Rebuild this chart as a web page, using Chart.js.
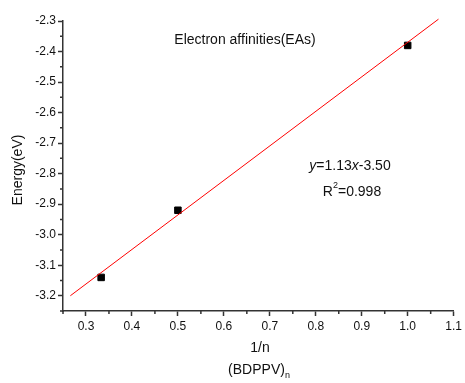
<!DOCTYPE html>
<html>
<head>
<meta charset="utf-8">
<script src="https://cdn.jsdelivr.net/npm/chart.js@4/dist/chart.umd.min.js"></script>
<style>
  html, body { margin: 0; padding: 0; background: #fff; }
  #wrap { width: 465px; height: 383px; }
</style>
</head>
<body>
<div id="wrap"><canvas id="c" width="465" height="383"></canvas></div>
<script>
// measured points: 1/n vs electron affinity
const invN = [0.333, 0.5, 1.0];
const eaValues = [-3.14, -2.92, -2.38];

// fitted line end points
const fitX = [0.266, 1.067];
const fitY = [-3.20, -2.294];

const xTicks = [0.3, 0.4, 0.5, 0.6, 0.7, 0.8, 0.9, 1.0, 1.1];
const yTicks = [-3.2, -3.1, -3.0, -2.9, -2.8, -2.7, -2.6, -2.5, -2.4, -2.3];
const xMinor = [0.25, 0.35, 0.45, 0.55, 0.65, 0.75, 0.85, 0.95, 1.05];
const yMinor = [-3.25, -3.15, -3.05, -2.95, -2.85, -2.75, -2.65, -2.55, -2.45, -2.35];

const FONT = '"Liberation Sans", Arial, sans-serif';
const AXIS = '#333';

const minorTicks = {
  id: 'minorTicks',
  afterDraw(chart) {
    const ctx = chart.ctx;
    const x = chart.scales.x, y = chart.scales.y;
    ctx.save();
    ctx.strokeStyle = AXIS;
    ctx.lineWidth = 1.5;
    ctx.beginPath();
    xMinor.forEach(v => {
      const px = x.getPixelForValue(v);
      ctx.moveTo(px, y.bottom);
      ctx.lineTo(px, y.bottom + 3);
    });
    yMinor.forEach(v => {
      const py = y.getPixelForValue(v);
      ctx.moveTo(x.left, py);
      ctx.lineTo(x.left - 3, py);
    });
    ctx.stroke();
    ctx.restore();
  }
};

const labels = {
  id: 'labels',
  afterDraw(chart) {
    const ctx = chart.ctx;
    ctx.save();
    ctx.fillStyle = '#111';
    ctx.textAlign = 'center';
    ctx.textBaseline = 'middle';
    ctx.font = '14px ' + FONT;
    ctx.fillText('Electron affinities(EAs)', 245, 40);

    // fit equation
    ctx.font = 'italic 14px ' + FONT;
    const p1 = 'y', p2 = '=1.13', p3 = 'x', p4 = '-3.50';
    const wI1 = ctx.measureText(p1).width, wI3 = ctx.measureText(p3).width;
    ctx.font = '14px ' + FONT;
    const w2 = ctx.measureText(p2).width, w4 = ctx.measureText(p4).width;
    let sx = 350 - (wI1 + w2 + wI3 + w4) / 2;
    ctx.textAlign = 'left';
    ctx.font = 'italic 14px ' + FONT; ctx.fillText(p1, sx, 166); sx += wI1;
    ctx.font = '14px ' + FONT; ctx.fillText(p2, sx, 166); sx += w2;
    ctx.font = 'italic 14px ' + FONT; ctx.fillText(p3, sx, 166); sx += wI3;
    ctx.font = '14px ' + FONT; ctx.fillText(p4, sx, 166);

    const wR = ctx.measureText('R').width, wV = ctx.measureText('=0.998').width;
    ctx.font = '9px ' + FONT;
    const wS = ctx.measureText('2').width;
    sx = 352 - (wR + wS + wV) / 2;
    ctx.font = '14px ' + FONT; ctx.fillText('R', sx, 192); sx += wR;
    ctx.font = '9px ' + FONT; ctx.fillText('2', sx, 186); sx += wS;
    ctx.font = '14px ' + FONT; ctx.fillText('=0.998', sx, 192);

    // x title
    ctx.textAlign = 'center';
    ctx.fillText('1/n', 260, 348);
    const wB = ctx.measureText('(BDPPV)').width;
    ctx.font = '9px ' + FONT;
    const wn = ctx.measureText('n').width;
    sx = 259 - (wB + wn) / 2;
    ctx.textAlign = 'left';
    ctx.font = '14px ' + FONT; ctx.fillText('(BDPPV)', sx, 370);
    ctx.font = '9px ' + FONT; ctx.fillText('n', sx + wB, 376);

    // y title
    ctx.font = '14px ' + FONT;
    ctx.textAlign = 'center';
    ctx.translate(18, 170);
    ctx.rotate(-Math.PI / 2);
    ctx.fillText('Energy(eV)', 0, 0);
    ctx.restore();
  }
};

new Chart(document.getElementById('c'), {
  type: 'scatter',
  data: {
    datasets: [
      {
        data: fitX.map((v, i) => ({ x: v, y: fitY[i] })),
        showLine: true,
        borderColor: '#ff0000',
        borderWidth: 1,
        pointRadius: 0,
        clip: false
      },
      {
        data: invN.map((v, i) => ({ x: v, y: eaValues[i] })),
        pointStyle: 'rect',
        pointRadius: 4.6,
        pointBackgroundColor: '#000',
        pointBorderColor: '#000',
        pointBorderWidth: 1
      }
    ]
  },
  options: {
    responsive: false,
    animation: false,
    layout: { padding: { left: 0, top: 21, right: 9, bottom: 0 } },
    plugins: { legend: { display: false }, tooltip: { enabled: false } },
    scales: {
      x: {
        type: 'linear',
        min: 0.25,
        max: 1.1,
        afterBuildTicks: s => { s.ticks = xTicks.map(v => ({ value: v })); },
        afterFit: s => { s.height = 72; },
        grid: { drawOnChartArea: false, tickLength: 5, tickColor: AXIS, tickWidth: 1.5 },
        border: { color: AXIS, width: 1.5 },
        ticks: {
          color: '#111',
          font: { family: FONT, size: 12 },
          padding: 3,
          maxRotation: 0,
          autoSkip: false,
          callback: v => v.toFixed(1)
        }
      },
      y: {
        type: 'linear',
        min: -3.25,
        max: -2.3,
        afterBuildTicks: s => { s.ticks = yTicks.map(v => ({ value: v })); },
        afterFit: s => { s.width = 63; },
        grid: { drawOnChartArea: false, tickLength: 5, tickColor: AXIS, tickWidth: 1.5 },
        border: { color: AXIS, width: 1.5 },
        ticks: {
          color: '#111',
          font: { family: FONT, size: 12 },
          padding: 2,
          autoSkip: false,
          callback: v => v.toFixed(1)
        }
      }
    }
  },
  plugins: [minorTicks, labels]
});
</script>
</body>
</html>
